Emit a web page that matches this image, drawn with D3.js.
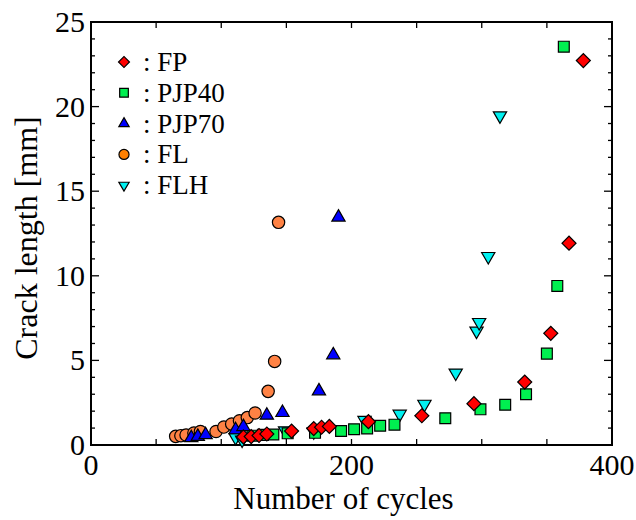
<!DOCTYPE html>
<html>
<head>
<meta charset="utf-8">
<script src="https://cdn.jsdelivr.net/npm/d3@7"></script>
<style>
  body { margin: 0; background: #fff; }
  text { font-family: "Liberation Serif", "Times New Roman", serif; fill: #000; }
</style>
</head>
<body>
<div class="chart"></div>
<script>
// Data (cycles, crack length in mm)
const fpCycles = [117, 123, 129, 135, 154, 171, 177, 183, 213, 254, 294, 333, 353, 367, 378];
const fpLength = [0.48, 0.5, 0.56, 0.65, 0.82, 0.97, 1.05, 1.10, 1.38, 1.73, 2.44, 3.72, 6.60, 11.93, 22.72];

const pjp40Cycles = [124, 132, 140, 151, 172, 192, 202, 212, 222, 233, 272, 299, 318, 334, 350, 358, 363];
const pjp40Length = [0.55, 0.6, 0.62, 0.69, 0.72, 0.83, 0.93, 0.98, 1.14, 1.20, 1.58, 2.11, 2.38, 3.0, 5.4, 9.4, 23.54];

const pjp70Cycles = [77, 82, 88, 111, 117, 135, 147, 175, 186, 190];
const pjp70Length = [0.42, 0.5, 0.6, 0.89, 1.08, 1.75, 1.91, 3.19, 5.32, 13.46];

const flCycles = [65, 69, 73, 79, 84, 96, 102, 108, 114, 120, 126, 136, 141, 144];
const flLength = [0.51, 0.55, 0.59, 0.71, 0.8, 0.8, 1.06, 1.24, 1.43, 1.62, 1.89, 3.17, 4.94, 13.16];

const flhCycles = [111, 116, 149, 171, 210, 237, 256, 280, 296, 298, 305, 314];
const flhLength = [0.45, 0.3, 0.85, 0.79, 1.46, 1.83, 2.42, 4.26, 6.74, 7.25, 11.15, 19.46];

const seriesNames = ["FP", "PJP40", "PJP70", "FL", "FLH"];
const xTicks = [0, 200, 400];
const yTicks = [0, 5, 10, 15, 20, 25];

// Set the property of svg
const svgWidth = 636,
      svgHeight = 520,
      plotLeft = 91, plotRight = 612, plotTop = 22, plotBottom = 445;

const svg = d3.select(".chart")
              .append("svg")
              .attr("width", svgWidth)
              .attr("height", svgHeight);

const xScale = d3.scaleLinear().domain([0, 400]).range([plotLeft, plotRight]);
const yScale = d3.scaleLinear().domain([0, 25]).range([plotBottom, plotTop]);

// marker styles: symbol, size, fill, rotation
const styles = {
  "FP":    { type: d3.symbolSquare,   size: 98,  legSize: 60, fill: "#ff0000", rot: 45 },
  "PJP40": { type: d3.symbolSquare,   size: 118, legSize: 75, fill: "#00f050", rot: 0 },
  "PJP70": { type: d3.symbolTriangle, size: 76,  legSize: 46, fill: "#0000ff", rot: 0 },
  "FL":    { type: d3.symbolCircle,   size: 120, legSize: 80, fill: "#ff8244", rot: 0 },
  "FLH":   { type: d3.symbolTriangle, size: 76,  legSize: 46, fill: "#00f0f0", rot: 180 }
};

const series = {
  "FP":    d3.zip(fpCycles, fpLength),
  "PJP40": d3.zip(pjp40Cycles, pjp40Length),
  "PJP70": d3.zip(pjp70Cycles, pjp70Length),
  "FL":    d3.zip(flCycles, flLength),
  "FLH":   d3.zip(flhCycles, flhLength)
};

// Ticks (inward, on all four sides)
const ticksG = svg.append("g").attr("stroke", "#000").attr("stroke-width", 1.3);
d3.range(0, 401, 50).forEach(v => {
  const x = xScale(v);
  ticksG.append("line").attr("x1", x).attr("x2", x).attr("y1", plotBottom).attr("y2", plotBottom - 6);
  ticksG.append("line").attr("x1", x).attr("x2", x).attr("y1", plotTop).attr("y2", plotTop + 6);
});
d3.range(0, 26, 1).forEach(v => {
  const y = yScale(v);
  const len = v % 5 === 0 ? 8 : 4;
  ticksG.append("line").attr("x1", plotLeft).attr("x2", plotLeft + len).attr("y1", y).attr("y2", y);
  ticksG.append("line").attr("x1", plotRight).attr("x2", plotRight - len).attr("y1", y).attr("y2", y);
});

// Frame
svg.append("rect")
   .attr("x", plotLeft).attr("y", plotTop)
   .attr("width", plotRight - plotLeft).attr("height", plotBottom - plotTop)
   .attr("fill", "none").attr("stroke", "#000").attr("stroke-width", 2);

// Tick labels
svg.append("g").selectAll("text")
   .data(xTicks).enter().append("text")
   .attr("x", d => xScale(d))
   .attr("y", 475)
   .attr("text-anchor", "middle")
   .attr("font-size", 30)
   .text(d => d);

svg.append("g").selectAll("text")
   .data(yTicks).enter().append("text")
   .attr("x", 85)
   .attr("y", d => yScale(d) + 10)
   .attr("text-anchor", "end")
   .attr("font-size", 30)
   .text(d => d);

// Axis titles
svg.append("text")
   .attr("x", (plotLeft + plotRight) / 2 - 8)
   .attr("y", 509)
   .attr("text-anchor", "middle")
   .attr("font-size", 31)
   .text("Number of cycles");

svg.append("text")
   .attr("transform", "translate(37, 238) rotate(-90)")
   .attr("text-anchor", "middle")
   .attr("font-size", 32)
   .text("Crack length [mm]");

// Draw points (FLH first, FP on top)
const drawOrder = ["FLH", "FL", "PJP40", "PJP70", "FP"];
drawOrder.forEach(name => {
  const st = styles[name];
  svg.append("g")
     .selectAll("path")
     .data(series[name])
     .enter()
     .append("path")
     .attr("d", d3.symbol().type(st.type).size(st.size))
     .attr("transform", d => `translate(${xScale(d[0])}, ${yScale(d[1])}) rotate(${st.rot})`)
     .attr("fill", st.fill)
     .attr("stroke", "#000")
     .attr("stroke-width", 1.2);
});

// Legend
const legend = svg.append("g").selectAll("g")
                  .data(seriesNames).enter().append("g")
                  .attr("transform", (d, i) => `translate(124, ${62 + i * 30.8})`);

legend.append("path")
      .attr("d", d => d3.symbol().type(styles[d].type).size(styles[d].legSize)())
      .attr("transform", d => `rotate(${styles[d].rot})`)
      .attr("fill", d => d === "FL" ? "#ff8000" : styles[d].fill)
      .attr("stroke", "#000")
      .attr("stroke-width", 1.2);

legend.append("text")
      .attr("x", 19)
      .attr("y", 9)
      .attr("font-size", 27)
      .text(d => ": " + d);
</script>
</body>
</html>
